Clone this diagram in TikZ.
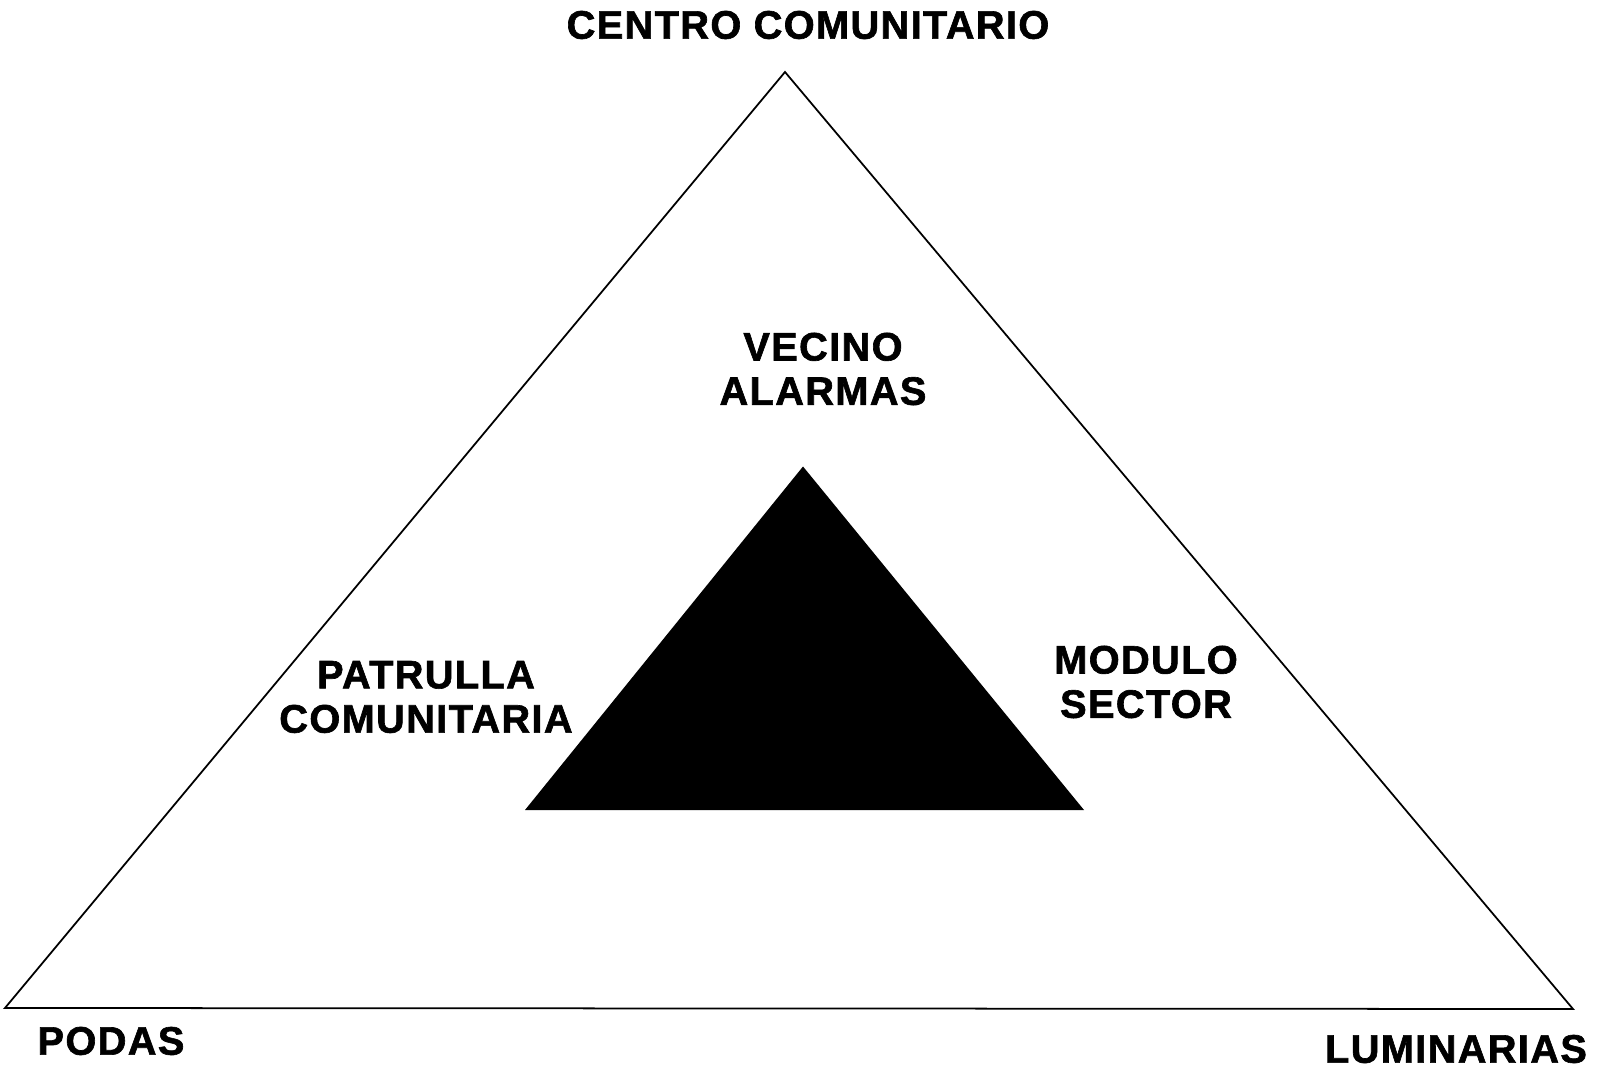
\documentclass[tikz,border=0pt]{standalone}
\usepackage{fontspec}
\usepackage{tikz}
\usetikzlibrary{positioning}
\newfontfamily\rotulofont[LetterSpace=3.5, BoldFeatures={FakeBold=1.6}]{Liberation Sans}
\tikzstyle{rotulo}=[inner sep=0pt, align=center, font=\rotulofont\bfseries\fontsize{11.3}{12.6}\selectfont]
\tikzstyle{contorno}=[draw=black, line width=0.5pt, line join=miter]
\tikzstyle{nucleo}=[fill=black]

\begin{document}
\begin{tikzpicture}
    \useasboundingbox (0,0) rectangle (16.04,-10.71);

    % triangulo exterior
    \coordinate (cima) at (7.85,-0.72);
    \coordinate (izq) at (0.05,-10.08);
    \coordinate (der) at (15.73,-10.09);
    \draw[contorno] (cima) -- (izq) -- (der) -- cycle;

    % triangulo interior
    \coordinate (cimain) at (8.03,-4.665);
    \coordinate (izqin) at (5.25,-8.10);
    \coordinate (derin) at (10.84,-8.10);
    \fill[nucleo] (cimain) -- (izqin) -- (derin) -- cycle;

    % rotulos
    \node[rotulo] (centro) at (8.08,-0.25) {CENTRO COMUNITARIO};
    \node[rotulo] (vecino) at (8.23,-3.69) {VECINO\\ALARMAS};
    \node[rotulo] (patrulla) at (4.26,-6.97) {PATRULLA\\COMUNITARIA};
    \node[rotulo] (modulo) at (11.46,-6.82) {MODULO\\SECTOR};
    \node[rotulo] (podas) at (1.11,-10.41) {PODAS};
    \node[rotulo] (luminarias) at (14.56,-10.49) {LUMINARIAS};
\end{tikzpicture}
\end{document}
